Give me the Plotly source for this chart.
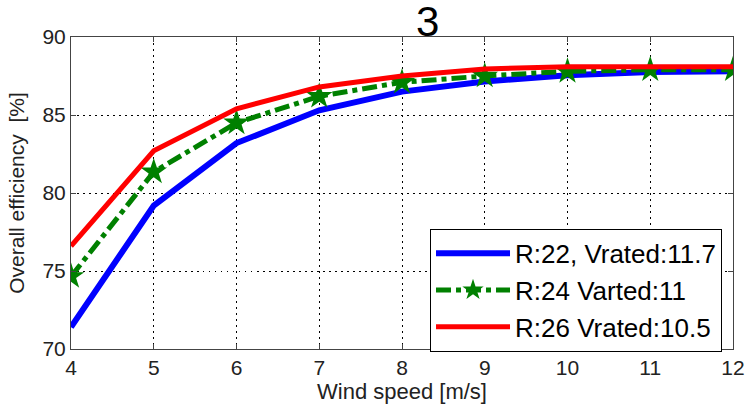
import plotly.graph_objects as go

wind_speed = [4, 5, 6, 7, 8, 9, 10, 11, 12]
eff_r22 = [71.4, 79.2, 83.2, 85.3, 86.5, 87.15, 87.55, 87.75, 87.8]
eff_r24 = [74.65, 81.35, 84.5, 86.2, 87.1, 87.5, 87.8, 87.9, 87.9]
eff_r26 = [76.6, 82.7, 85.4, 86.8, 87.5, 87.95, 88.1, 88.1, 88.1]
names = ["R:22, Vrated:11.7", "R:24 Varted:11", "R:26 Vrated:10.5"]
x_ticks = [4, 5, 6, 7, 8, 9, 10, 11, 12]
y_ticks = [70, 75, 80, 85, 90]

FONT = "Liberation Sans, Arial, Helvetica"

fig = go.Figure()
fig.add_trace(go.Scatter(x=wind_speed, y=eff_r22, mode="lines", name=names[0],
                         line=dict(color="#0000ff", width=6)))
fig.add_trace(go.Scatter(x=wind_speed, y=eff_r24, mode="lines+markers", name=names[1],
                         line=dict(color="#008000", width=5, dash="dashdot"),
                         marker=dict(symbol="star", size=20, color="#008000")))
fig.add_trace(go.Scatter(x=wind_speed, y=eff_r26, mode="lines", name=names[2],
                         line=dict(color="#ff0000", width=5)))

axis_common = dict(showgrid=True, gridcolor="black", griddash="1.5px,4.5px", gridwidth=1.2,
                   showline=True, linecolor="#444", linewidth=1, mirror="ticks",
                   ticks="inside", ticklen=5, tickcolor="#444", zeroline=False,
                   automargin=False,
                   tickfont=dict(family=FONT, size=21, color="#222"))

fig.update_xaxes(range=[4, 12], tickvals=x_ticks,
                 title=dict(text="Wind speed [m/s]", standoff=6,
                            font=dict(family=FONT, size=22, color="#222")),
                 **axis_common)
fig.update_yaxes(range=[70, 90], tickvals=y_ticks,
                 title=dict(text="Overall efficiency  [%]", standoff=12,
                            font=dict(family=FONT, size=21, color="#222")),
                 **axis_common)

fig.add_annotation(text="3", xref="paper", yref="paper", x=(427 - 71) / (733 - 71), y=1.0,
                   xanchor="center", yanchor="bottom", showarrow=False, yshift=-10,
                   font=dict(family=FONT, size=42, color="black"))

fig.update_layout(
    width=750, height=404,
    margin=dict(l=71, r=17, t=37, b=55),
    plot_bgcolor="white", paper_bgcolor="white",
    font=dict(family=FONT),
    legend=dict(x=0.9834, y=-0.009, xanchor="right", yanchor="bottom",
                bordercolor="black", borderwidth=1, bgcolor="white",
                font=dict(size=26, color="black"), tracegroupgap=0,
                itemwidth=74),
    showlegend=True,
)

fig.write_html("out.html", config={"displayModeBar": False},
               post_script="document.body.style.margin='0';")
